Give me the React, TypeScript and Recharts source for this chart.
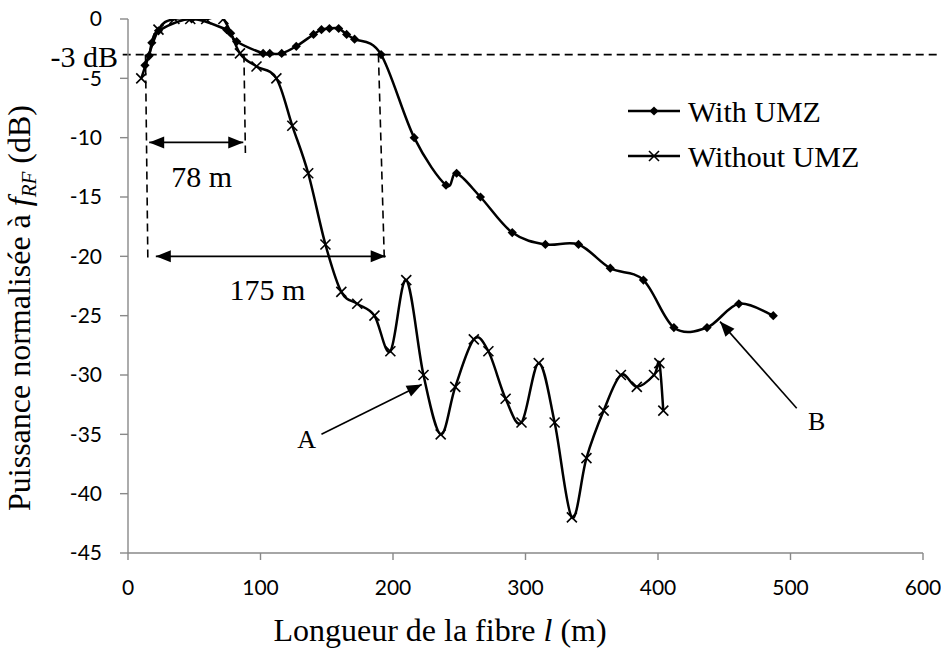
import React from 'react';
import { LineChart, Line, XAxis, YAxis, ReferenceLine, ReferenceDot } from 'recharts';

// ---------- data ----------
const withUmzL = [12.8, 16, 18, 23, 48, 74.5, 77.5, 82, 102, 107, 116, 127, 140, 146, 152, 159, 165, 171, 191, 216, 240, 248, 266, 290, 315, 340, 364, 389, 412, 437, 461, 487];
const withUmzDb = [-3.9, -3.1, -2.0, -1.0, 0, -0.9, -1.2, -1.9, -2.9, -2.9, -2.9, -2.3, -1.3, -0.9, -0.8, -0.8, -1.3, -1.7, -3.0, -10, -14, -13, -15, -18, -19, -19, -21, -22, -26, -26, -24, -25];

const withoutUmzL = [10, 23, 35, 47, 59, 72, 84.5, 97, 112, 124, 136, 149, 161, 173, 186, 198, 210, 223, 236, 247, 261, 272, 285, 297, 310, 322, 335, 346, 359, 372, 384, 397, 401, 404];
const withoutUmzDb = [-5, -0.9, 0, 0, 0, 0, -2.9, -4, -5, -9, -13, -19, -23, -24, -25, -28, -22, -30, -35, -31, -27, -28, -32, -34, -29, -34, -42, -37, -33, -30, -31, -30, -29, -33];

const xTicks = [0, 100, 200, 300, 400, 500, 600];
const yTicks = [-45, -40, -35, -30, -25, -20, -15, -10, -5, 0];

const seriesNames = ['With UMZ', 'Without UMZ'];

// annotations (data units)
const threeDbLevel = -3;
const threeDbLabel = { x: -7.5, y: -3.2, text: '-3 dB' };
const dashedVerticals = [
  { x1: 13.2, y1: -3, x2: 15, y2: -20.5 },
  { x1: 87.5, y1: -3, x2: 88.6, y2: -11.3 },
  { x1: 189, y1: -3, x2: 193.5, y2: -20.5 },
];
const dimArrows = [
  { x1: 16, x2: 87, y: -10.4 },
  { x1: 21, x2: 194.5, y: -20.0 },
];
const dimLabels = [
  { x: 55.6, y: -13.3, text: '78 m' },
  { x: 105.3, y: -22.8, text: '175 m' },
];
const pointerArrows = [
  { x1: 146, y1: -35, x2: 221.7, y2: -30.8 },
  { x1: 504.7, y1: -32.8, x2: 446.8, y2: -25.5 },
];
const pointerLabels = [
  { x: 134.9, y: -35.4, text: 'A' },
  { x: 519.8, y: -33.9, text: 'B' },
];

// ---------- helpers ----------
const SERIF = "'Liberation Serif', 'Times New Roman', serif";
const SANS = "Lato, 'Open Sans', sans-serif";

// Catmull-Rom style smoothing (like Excel's smoothed line)
const smoothCurve: any = (context: any) => {
  let pts: number[][] = [];
  return {
    areaStart() {},
    areaEnd() {},
    lineStart() { pts = []; },
    point(x: number, y: number) { pts.push([+x, +y]); },
    lineEnd() {
      const n = pts.length;
      if (!n) return;
      context.moveTo(pts[0][0], pts[0][1]);
      for (let i = 0; i < n - 1; i++) {
        const p0 = pts[Math.max(i - 1, 0)];
        const p1 = pts[i];
        const p2 = pts[i + 1];
        const p3 = pts[Math.min(i + 2, n - 1)];
        context.bezierCurveTo(
          p1[0] + (p2[0] - p0[0]) / 6, p1[1] + (p2[1] - p0[1]) / 6,
          p2[0] - (p3[0] - p1[0]) / 6, p2[1] - (p3[1] - p1[1]) / 6,
          p2[0], p2[1]
        );
      }
    },
  };
};

const DiamondDot = (p: any) => {
  const { cx, cy } = p;
  if (cx == null || cy == null) return null;
  const r = 4.6;
  return <polygon points={`${cx},${cy - r} ${cx + r},${cy} ${cx},${cy + r} ${cx - r},${cy}`} fill="#000" />;
};

const CrossDot = (p: any) => {
  const { cx, cy } = p;
  if (cx == null || cy == null) return null;
  const r = 5;
  return (
    <g stroke="#000" strokeWidth={1.6}>
      <line x1={cx - r} y1={cy - r} x2={cx + r} y2={cy + r} />
      <line x1={cx - r} y1={cy + r} x2={cx + r} y2={cy - r} />
    </g>
  );
};

const head = (tx: number, ty: number, ux: number, uy: number, L = 15, W = 6) =>
  `${tx},${ty} ${tx - ux * L - uy * W},${ty - uy * L + ux * W} ${tx - ux * L + uy * W},${ty - uy * L - ux * W}`;

const arrowShape = (both: boolean) => (p: any) => {
  const { x1, y1, x2, y2 } = p;
  const dx = x2 - x1, dy = y2 - y1;
  const len = Math.hypot(dx, dy) || 1;
  const ux = dx / len, uy = dy / len;
  return (
    <g>
      <line x1={x1} y1={y1} x2={x2} y2={y2} stroke="#000" strokeWidth={1.6} />
      <polygon points={head(x2, y2, ux, uy)} fill="#000" />
      {both && <polygon points={head(x1, y1, -ux, -uy)} fill="#000" />}
    </g>
  );
};

const textShape = (text: string, size: number, anchor: string = 'middle') => (p: any) => (
  <text x={p.cx} y={p.cy} textAnchor={anchor} dominantBaseline="central" fontFamily={SERIF} fontSize={size} fill="#000">
    {text}
  </text>
);

const withData = withUmzL.map((x, i) => ({ x, y: withUmzDb[i] }));
const withoutData = withoutUmzL.map((x, i) => ({ x, y: withoutUmzDb[i] }));

const W = 941;
const H = 650;

export default function App() {
  return (
    <div style={{ position: 'absolute', left: 0, top: 0, width: W, height: H }}>
      <LineChart width={W} height={H} margin={{ top: 19, right: 18, left: 8, bottom: 0 }}>
        <XAxis
          type="number"
          dataKey="x"
          domain={[0, 600]}
          ticks={xTicks}
          interval={0}
          allowDataOverflow
          height={97}
          tickSize={7}
          tickMargin={20}
          axisLine={{ stroke: '#898989', strokeWidth: 1.4 }}
          tickLine={{ stroke: '#898989', strokeWidth: 1.4 }}
          tick={{ fill: '#000', fontSize: 21, fontFamily: SANS }}
        />
        <YAxis
          type="number"
          domain={[-45, 0]}
          ticks={yTicks}
          interval={0}
          allowDataOverflow
          width={120}
          tickSize={8}
          tickMargin={18}
          axisLine={{ stroke: '#898989', strokeWidth: 1.4 }}
          tickLine={{ stroke: '#898989', strokeWidth: 1.4 }}
          tick={{ fill: '#000', fontSize: 21, fontFamily: SANS }}
        />
        <ReferenceLine
          segment={[{ x: -4, y: threeDbLevel }, { x: 612, y: threeDbLevel }]}
          ifOverflow="visible"
          stroke="#000"
          strokeWidth={1.6}
          strokeDasharray="8 5"
        />
        {dashedVerticals.map((d, i) => (
          <ReferenceLine
            key={'dv' + i}
            segment={[{ x: d.x1, y: d.y1 }, { x: d.x2, y: d.y2 }]}
            ifOverflow="visible"
            stroke="#000"
            strokeWidth={1.6}
            strokeDasharray="8 5"
          />
        ))}
        {dimArrows.map((d, i) => (
          <ReferenceLine
            key={'da' + i}
            segment={[{ x: d.x1, y: d.y }, { x: d.x2, y: d.y }]}
            ifOverflow="visible"
            shape={arrowShape(true)}
          />
        ))}
        {pointerArrows.map((d, i) => (
          <ReferenceLine
            key={'pa' + i}
            segment={[{ x: d.x1, y: d.y1 }, { x: d.x2, y: d.y2 }]}
            ifOverflow="visible"
            shape={arrowShape(false)}
          />
        ))}
        <Line
          data={withData}
          dataKey="y"
          name={seriesNames[0]}
          type={smoothCurve}
          stroke="#000"
          strokeWidth={2.5}
          dot={<DiamondDot />}
          activeDot={false}
          isAnimationActive={false}
        />
        <Line
          data={withoutData}
          dataKey="y"
          name={seriesNames[1]}
          type={smoothCurve}
          stroke="#000"
          strokeWidth={2.5}
          dot={<CrossDot />}
          activeDot={false}
          isAnimationActive={false}
        />
        <ReferenceDot x={threeDbLabel.x} y={threeDbLabel.y} r={0} ifOverflow="visible" shape={textShape(threeDbLabel.text, 30, 'end')} />
        {dimLabels.map((d, i) => (
          <ReferenceDot key={'dl' + i} x={d.x} y={d.y} r={0} ifOverflow="visible" shape={textShape(d.text, 30)} />
        ))}
        {pointerLabels.map((d, i) => (
          <ReferenceDot key={'pl' + i} x={d.x} y={d.y} r={0} ifOverflow="visible" shape={textShape(d.text, 26)} />
        ))}
      </LineChart>
      <svg width={W} height={H} style={{ position: 'absolute', left: 0, top: 0, pointerEvents: 'none' }}>
        {/* legend */}
        <g fontFamily={SERIF} fontSize={30} fill="#000">
          <line x1={628} y1={111} x2={680} y2={111} stroke="#000" strokeWidth={2.5} />
          <polygon points="654,106.4 658.6,111 654,115.6 649.4,111" fill="#000" />
          <text x={688} y={111} dominantBaseline="central">{seriesNames[0]}</text>
          <line x1={628} y1={156} x2={680} y2={156} stroke="#000" strokeWidth={2.5} />
          <g stroke="#000" strokeWidth={1.6}>
            <line x1={649} y1={151} x2={659} y2={161} />
            <line x1={649} y1={161} x2={659} y2={151} />
          </g>
          <text x={688} y={156} dominantBaseline="central">{seriesNames[1]}</text>
        </g>
        {/* axis titles */}
        <text x={440} y={641} textAnchor="middle" fontFamily={SERIF} fontSize={32} fill="#000">
          Longueur de la fibre <tspan fontStyle="italic">l</tspan> (m)
        </text>
        <text transform="translate(30,308) rotate(-90)" textAnchor="middle" fontFamily={SERIF} fontSize={32} fill="#000">
          Puissance normalisée à <tspan fontStyle="italic">f</tspan>
          <tspan fontStyle="italic" fontSize={21} dy={6}>RF</tspan>
          <tspan dy={-6}> (dB)</tspan>
        </text>
      </svg>
    </div>
  );
}
